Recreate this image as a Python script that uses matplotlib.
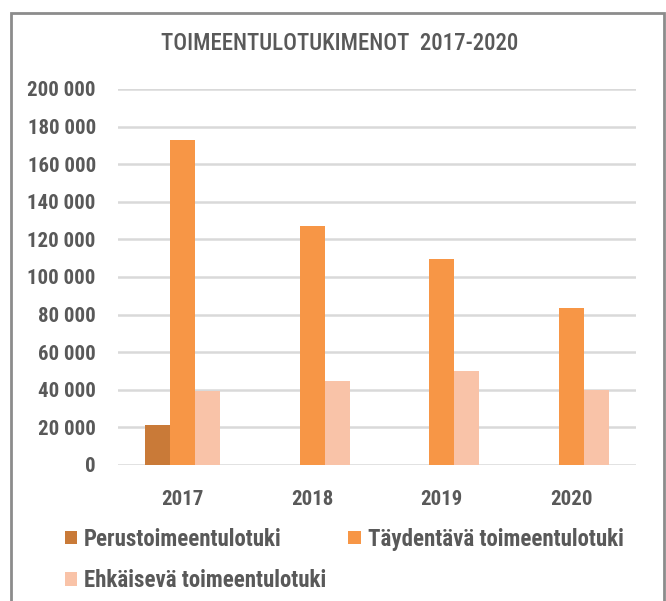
import numpy as np
import matplotlib.pyplot as plt
from matplotlib.patches import Rectangle

plt.rcParams['font.family'] = ['Roboto Condensed', 'Barlow Semi Condensed', 'DejaVu Sans']

# data
years = ["2017", "2018", "2019", "2020"]
perus = [21300, 0, 0, 0]
taydentava = [173000, 127000, 109500, 83500]
ehkaiseva = [39500, 44700, 50000, 40000]

series_names = ["Perustoimeentulotuki", "Täydentävä toimeentulotuki", "Ehkäisevä toimeentulotuki"]
colors = ["#C97A38", "#F79646", "#F9C3A8"]
text_color = "#595959"

fig = plt.figure(figsize=(6.66, 6.01), dpi=100)

# chart frame
fig.patches.append(Rectangle((11 / 666, -0.05), 653 / 666, 1 - 13 / 601 + 0.05,
                             transform=fig.transFigure, fill=False,
                             edgecolor="#8C8C8C", linewidth=2))

ax = fig.add_axes([118 / 666, 1 - 465 / 601, 518 / 666, 376 / 601])

x = np.arange(len(years))
w = 0.193
b1 = ax.bar(x - w, perus, w, color=colors[0], label=series_names[0])
b2 = ax.bar(x, taydentava, w, color=colors[1], label=series_names[1])
b3 = ax.bar(x + w, ehkaiseva, w, color=colors[2], label=series_names[2])

ax.set_xlim(-0.5, len(years) - 0.5)
ax.set_ylim(0, 200000)
ax.set_yticks(range(0, 200001, 20000))
ax.set_yticklabels([f"{v:,}".replace(",", " ") for v in range(0, 200001, 20000)])
ax.set_xticks(x)
ax.set_xticklabels(years)
ax.tick_params(length=0, labelsize=15, labelcolor=text_color)
ax.tick_params(axis="y", pad=16)
ax.tick_params(axis="x", pad=18)
for lab in ax.get_xticklabels() + ax.get_yticklabels():
    lab.set_fontweight("bold")
ax.grid(axis="y", color="#D9D9D9", linewidth=1.8)
ax.set_axisbelow(True)
for s in ax.spines.values():
    s.set_visible(False)

fig.text(0.51, 1 - 44 / 601, "TOIMEENTULOTUKIMENOT  2017-2020", ha="center", va="center",
         fontsize=16.5, color=text_color, fontweight="medium")

fig.legend([b1, b3, b2], [series_names[0], series_names[2], series_names[1]],
           ncol=2, loc="upper left", bbox_to_anchor=(44 / 666, 1 - 507 / 601),
           frameon=False, handlelength=0.55, handleheight=0.55, handletextpad=0.3,
           columnspacing=0.95, labelspacing=0.8,
           prop={"size": 16.5, "weight": "bold"}, labelcolor=text_color)

fig.savefig("out.png", dpi=100)
